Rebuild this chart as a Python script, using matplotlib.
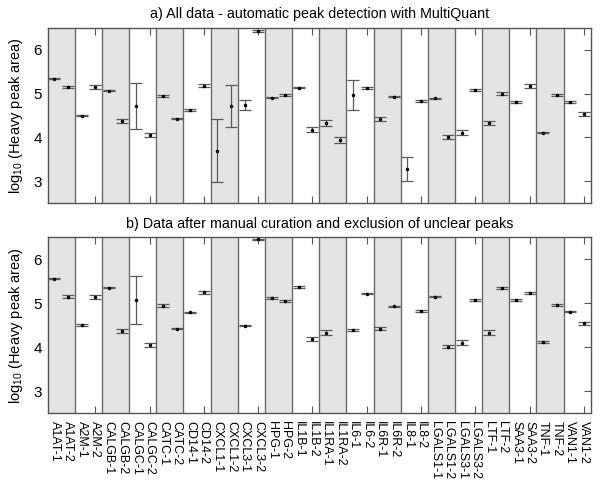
import numpy as np
import matplotlib
matplotlib.use('Agg')
import matplotlib.pyplot as plt

plt.rcParams['font.family'] = ['Liberation Sans', 'DejaVu Sans']
plt.rcParams['mathtext.fontset'] = 'custom'
plt.rcParams['mathtext.rm'] = 'Liberation Sans'
plt.rcParams['mathtext.it'] = 'Liberation Sans:italic'

labels = ['A1AT-1', 'A1AT-2', 'A2M-1', 'A2M-2', 'CALGB-1', 'CALGB-2', 'CALGC-1', 'CALGC-2',
          'CATC-1', 'CATC-2', 'CD14-1', 'CD14-2', 'CXCL1-1', 'CXCL1-2', 'CXCL3-1', 'CXCL3-2',
          'HPG-1', 'HPG-2', 'IL1B-1', 'IL1B-2', 'IL1RA-1', 'IL1RA-2', 'IL6-1', 'IL6-2',
          'IL6R-1', 'IL6R-2', 'IL8-1', 'IL8-2', 'LGALS1-1', 'LGALS1-2', 'LGALS3-1', 'LGALS3-2',
          'LTF-1', 'LTF-2', 'SAA3-1', 'SAA3-2', 'TNF-1', 'TNF-2', 'VAN1-1', 'VAN1-2']

a_mean = [5.345, 5.155, 4.50, 5.148, 5.064, 4.379, 4.72, 4.05,
          4.95, 4.43, 4.63, 5.18, 3.69, 4.71, 4.74, 6.44,
          4.91, 4.97, 5.14, 4.18, 4.33, 3.95, 4.97, 5.13,
          4.42, 4.93, 3.28, 4.83, 4.89, 4.01, 4.105, 5.08,
          4.33, 5.00, 4.81, 5.17, 4.11, 4.97, 4.81, 4.54]
a_err = [0.02, 0.02, 0.015, 0.045, 0.015, 0.045, 0.52, 0.05,
         0.03, 0.015, 0.02, 0.03, 0.72, 0.48, 0.12, 0.02,
         0.02, 0.03, 0.02, 0.05, 0.065, 0.07, 0.34, 0.02,
         0.04, 0.015, 0.28, 0.02, 0.02, 0.04, 0.06, 0.015,
         0.05, 0.03, 0.02, 0.04, 0.015, 0.02, 0.02, 0.04]

b_mean = [5.56, 5.15, 4.50, 5.14, 5.35, 4.37, 5.07, 4.05,
          4.94, 4.42, 4.79, 5.25, np.nan, np.nan, 4.49, 6.45,
          5.11, 5.05, 5.36, 4.18, 4.33, np.nan, 4.39, 5.22,
          4.42, 4.925, np.nan, 4.83, 5.15, 4.01, 4.10, 5.07,
          4.33, 5.34, 5.08, 5.23, 4.11, 4.96, 4.81, 4.54]
b_err = [0.02, 0.03, 0.015, 0.04, 0.015, 0.05, 0.55, 0.05,
         0.03, 0.015, 0.02, 0.03, np.nan, np.nan, 0.02, 0.02,
         0.02, 0.015, 0.02, 0.05, 0.06, np.nan, 0.015, 0.02,
         0.04, 0.02, np.nan, 0.02, 0.02, 0.04, 0.06, 0.015,
         0.06, 0.02, 0.02, 0.03, 0.02, 0.02, 0.02, 0.04]

titles = ['a) All data - automatic peak detection with MultiQuant',
          'b) Data after manual curation and exclusion of unclear peaks']
ylabel = r'log$_{\mathrm{10}}$ (Heavy peak area)'

x = np.arange(1, len(labels) + 1)
n_prot = len(labels) // 2

fig = plt.figure(figsize=(6.0, 4.82), dpi=100)
axes = [fig.add_axes([0.0795, 0.5788, 0.905, 0.3631]),
        fig.add_axes([0.0795, 0.1432, 0.905, 0.3645])]

for ax, means, errs, title, show_labels in zip(axes, [a_mean, b_mean], [a_err, b_err],
                                               titles, [False, True]):
    for p in range(n_prot):
        if p % 2 == 0:
            ax.axvspan(2 * p + 0.5, 2 * p + 2.5, color='#e4e4e4', lw=0, zorder=0)
        if p > 0:
            ax.axvline(2 * p + 0.5, color='#6a6a6a', lw=1.0, zorder=1)
    ax.errorbar(x, means, yerr=errs, fmt='o', color='black', markersize=1.5,
                ecolor='#5a5a5a', elinewidth=0.9, capsize=4, capthick=0.9, zorder=3)
    ax.set_xlim(0.5, len(labels) + 0.5)
    ax.set_ylim(2.5, 6.5)
    ax.set_yticks([3, 4, 5, 6])
    ax.tick_params(axis='y', direction='in', left=False, right=True, labelleft=True,
                   length=5, labelsize=11, color='#555555', pad=4)
    ax.set_xticks(np.arange(4, len(labels) + 1, 4))
    ax.set_xticklabels([])
    ax.tick_params(axis='x', which='major', direction='in', top=True, bottom=True,
                   length=5, color='#555555')
    ax.xaxis.remove_overlapping_locs = False
    if show_labels:
        ax.set_xticks(x, minor=True)
        ax.set_xticklabels(labels, minor=True, rotation=270, fontsize=9)
        ax.tick_params(axis='x', which='minor', length=0, pad=6)
    for s in ax.spines.values():
        s.set_color('#555555')
        s.set_linewidth(1.0)
    ax.set_title(title, fontsize=10.3, pad=7)
    ax.set_ylabel(ylabel, fontsize=10.5, labelpad=6)

fig.savefig('out.png', dpi=100)
